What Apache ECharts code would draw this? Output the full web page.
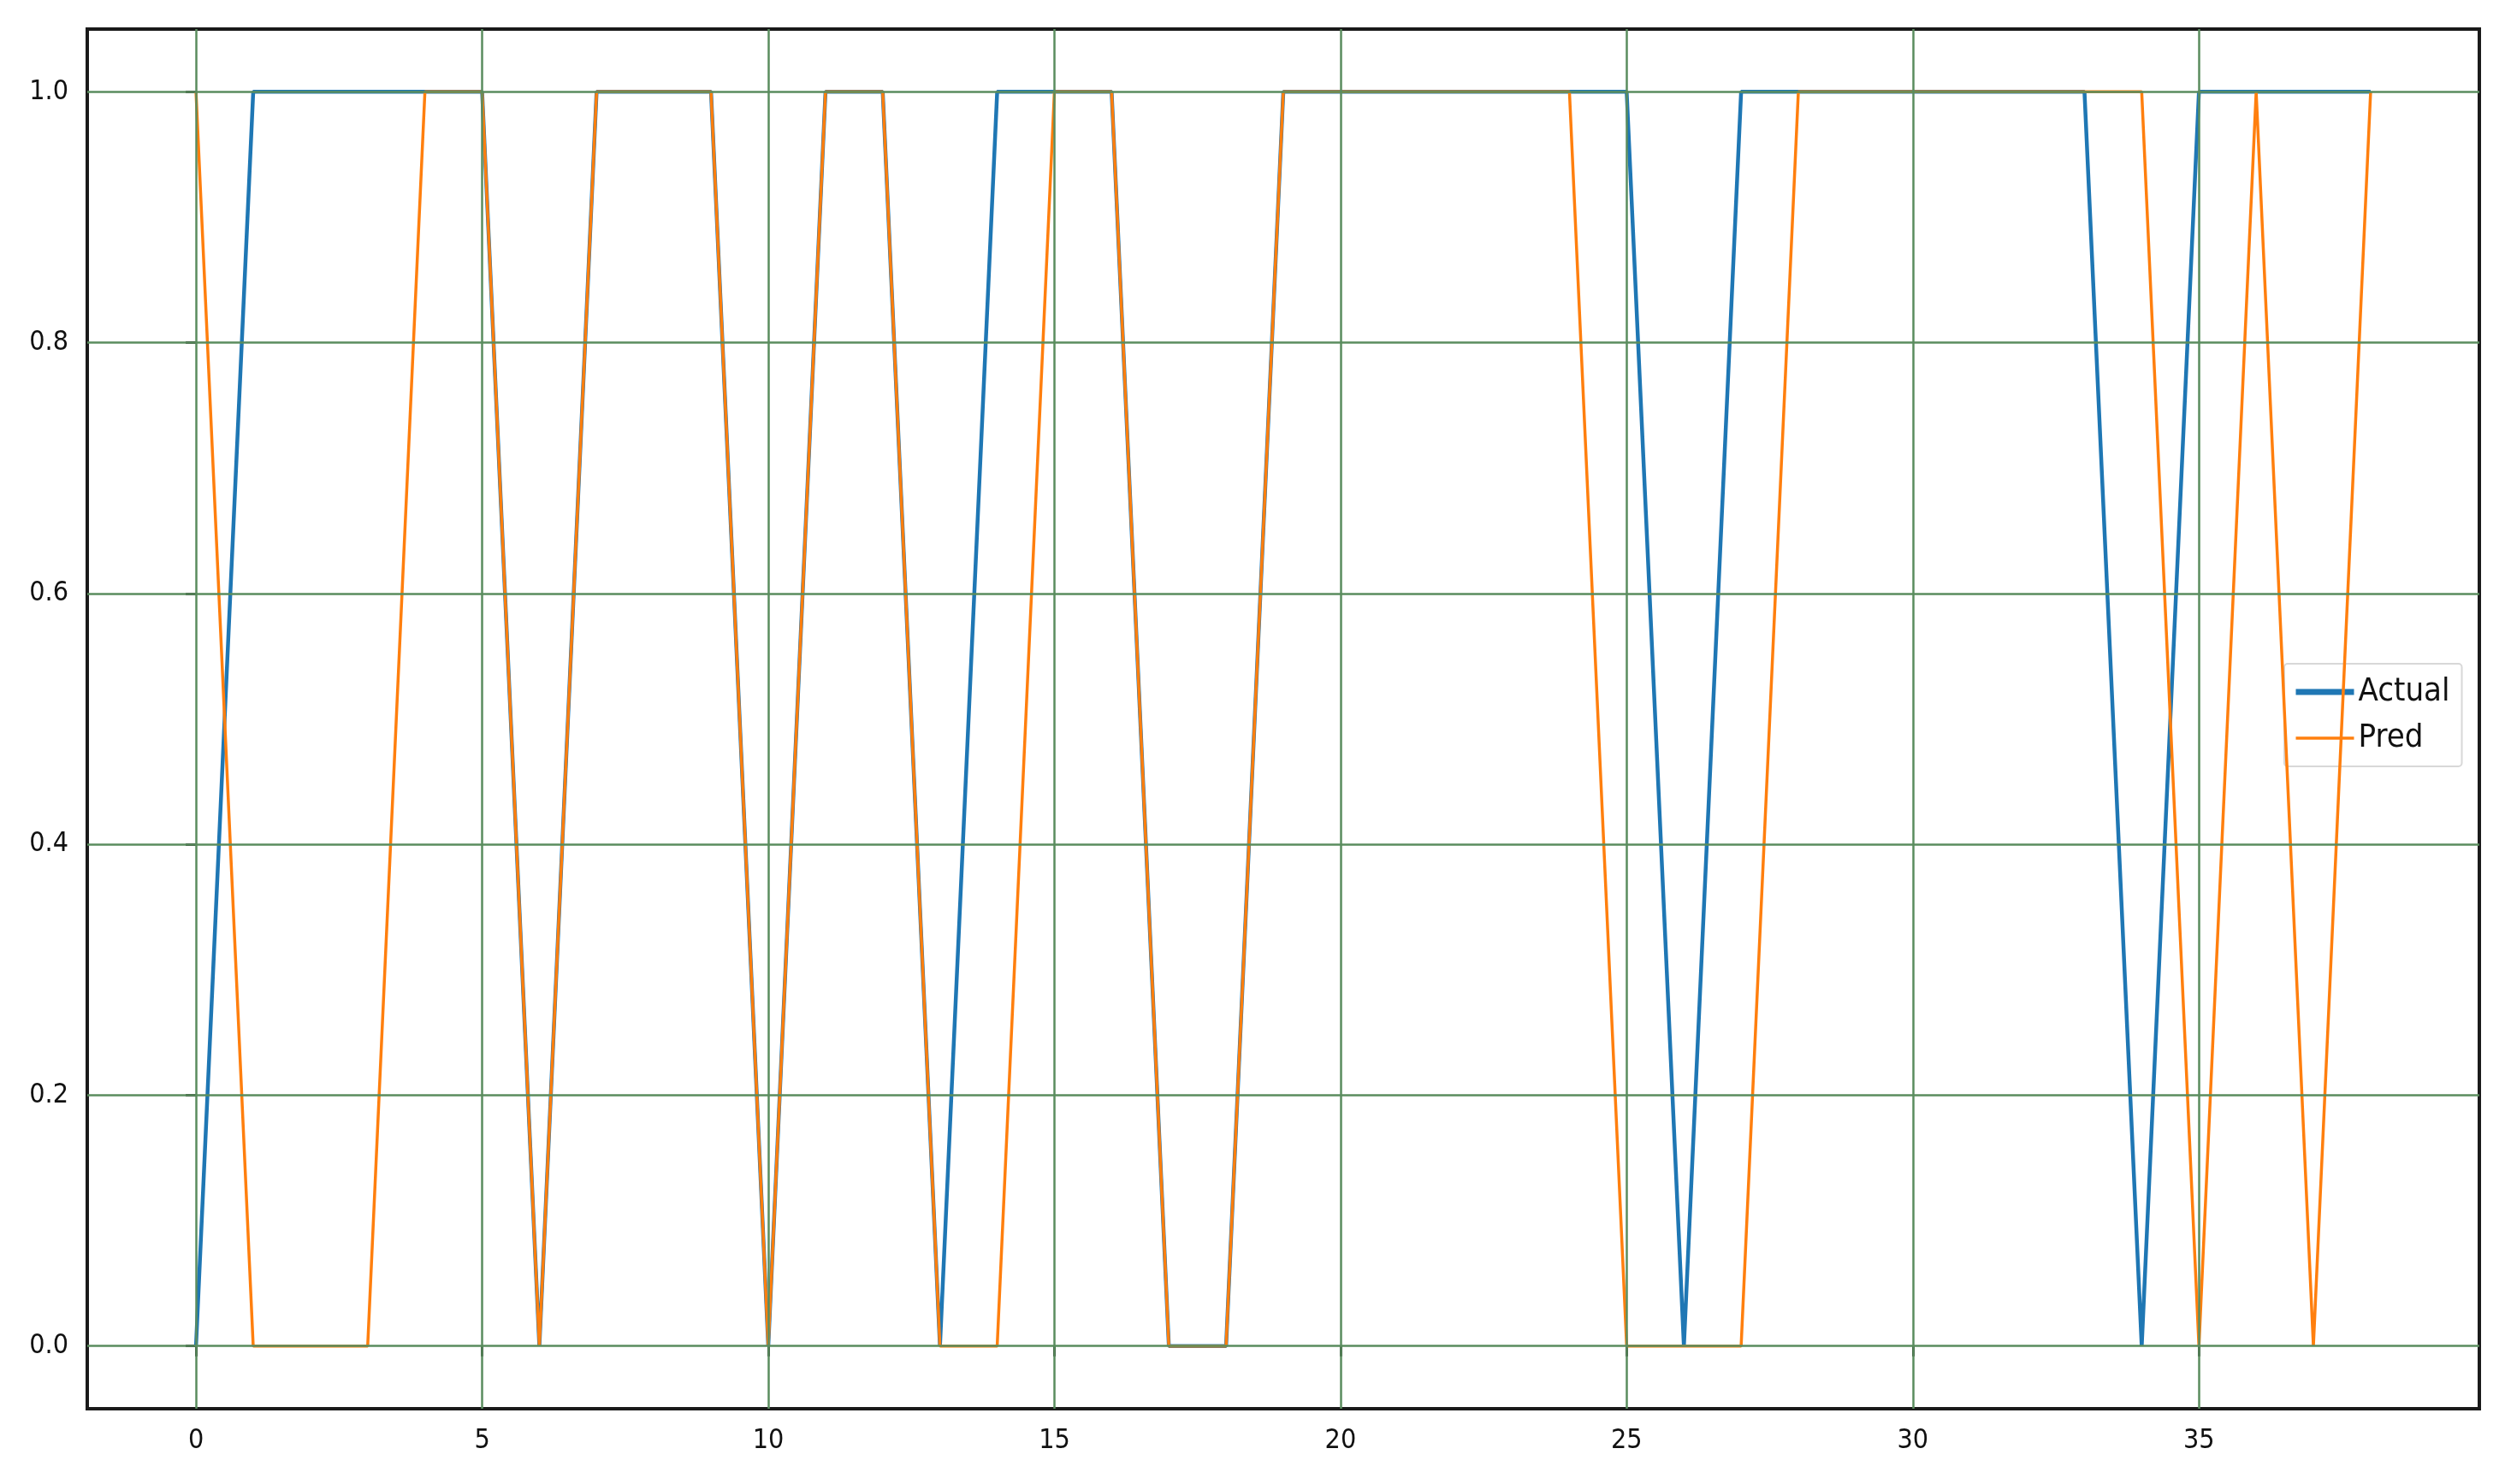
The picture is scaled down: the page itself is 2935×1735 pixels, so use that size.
<!DOCTYPE html>
<html>
<head>
<meta charset="utf-8">
<script src="https://cdn.jsdelivr.net/npm/echarts@6/dist/echarts.min.js"></script>
<style>
  html, body { margin: 0; padding: 0; background: #fff; }
  #main { width: 2935px; height: 1735px; }
</style>
</head>
<body>
<div id="main"></div>
<script>
// values, one per sample index 0..38
var actual = [0, 1, 1, 1, 1, 1, 0, 1, 1, 1, 0, 1, 1, 0, 1, 1, 1, 0, 0, 1,
              1, 1, 1, 1, 1, 1, 0, 1, 1, 1, 1, 1, 1, 1, 0, 1, 1, 1, 1];
var pred   = [1, 0, 0, 0, 1, 1, 0, 1, 1, 1, 0, 1, 1, 0, 0, 1, 1, 0, 0, 1,
              1, 1, 1, 1, 1, 0, 0, 0, 1, 1, 1, 1, 1, 1, 1, 0, 1, 0, 1];
var xTicks = [0, 5, 10, 15, 20, 25, 30, 35];
var yTicks = [0, 0.2, 0.4, 0.6, 0.8, 1.0];

function pairs(arr) {
  var out = [];
  for (var i = 0; i < arr.length; i++) out.push([i, arr[i]]);
  return out;
}

var font = "'DejaVu Sans Condensed', 'DejaVu Sans', sans-serif";
var gridColor = '#5a8c5e';

// grid lines at the tick positions
var gridLines = [];
xTicks.forEach(function (v) { gridLines.push({ xAxis: v }); });
yTicks.forEach(function (v) { gridLines.push({ yAxis: v }); });

var chart = echarts.init(document.getElementById('main'));
chart.setOption({
  animation: false,
  backgroundColor: '#fff',
  grid: {
    left: 102, top: 34, right: 37, bottom: 88,
    show: true, borderColor: '#1a1a1a', borderWidth: 4, backgroundColor: 'transparent'
  },
  xAxis: {
    type: 'value',
    min: -1.9, max: 39.9,
    axisLine: { show: false },
    splitLine: { show: false },
    axisTick: { show: true, customValues: xTicks, length: 12, inside: false,
                lineStyle: { color: '#1a1a1a', width: 3 } },
    axisLabel: { customValues: xTicks, margin: 22, fontSize: 32, color: '#111', fontFamily: font,
                 formatter: function (v) { return String(v); } }
  },
  yAxis: {
    type: 'value',
    min: -0.05, max: 1.05,
    axisLine: { show: false },
    splitLine: { show: false },
    axisTick: { show: true, customValues: yTicks, length: 12, inside: false,
                lineStyle: { color: '#1a1a1a', width: 3 } },
    axisLabel: { customValues: yTicks, margin: 22, fontSize: 32, color: '#111', fontFamily: font,
                 formatter: function (v) { return v.toFixed(1); } }
  },
  legend: {
    data: [
      { name: 'Actual', lineStyle: { width: 7 } },
      { name: 'Pred', lineStyle: { width: 3.5 } }
    ],
    orient: 'vertical',
    left: 2670, top: 776,
    padding: [14, 14, 14, 10],
    backgroundColor: '#fff',
    borderColor: '#d8d8d8', borderWidth: 2, borderRadius: 4,
    itemWidth: 68, itemHeight: 14, itemGap: 16, itemTextGap: 29,
    itemStyle: { opacity: 0 },
    textStyle: { fontSize: 38, lineHeight: 38, color: '#111', fontFamily: font }
  },
  series: [
    {
      name: 'grid',
      type: 'line',
      data: [],
      z: 1,
      markLine: {
        silent: true,
        symbol: 'none',
        label: { show: false },
        lineStyle: { color: gridColor, width: 2.5, type: 'solid', opacity: 1 },
        data: gridLines
      }
    },
    {
      name: 'Actual',
      type: 'line',
      data: pairs(actual),
      symbol: 'none',
      z: 3,
      color: '#1f77b4',
      lineStyle: { color: '#1f77b4', width: 4.5 }
    },
    {
      name: 'Pred',
      type: 'line',
      data: pairs(pred),
      symbol: 'none',
      z: 4,
      color: '#ff7f0e',
      lineStyle: { color: '#ff7f0e', width: 3.5 }
    }
  ]
});
</script>
</body>
</html>
